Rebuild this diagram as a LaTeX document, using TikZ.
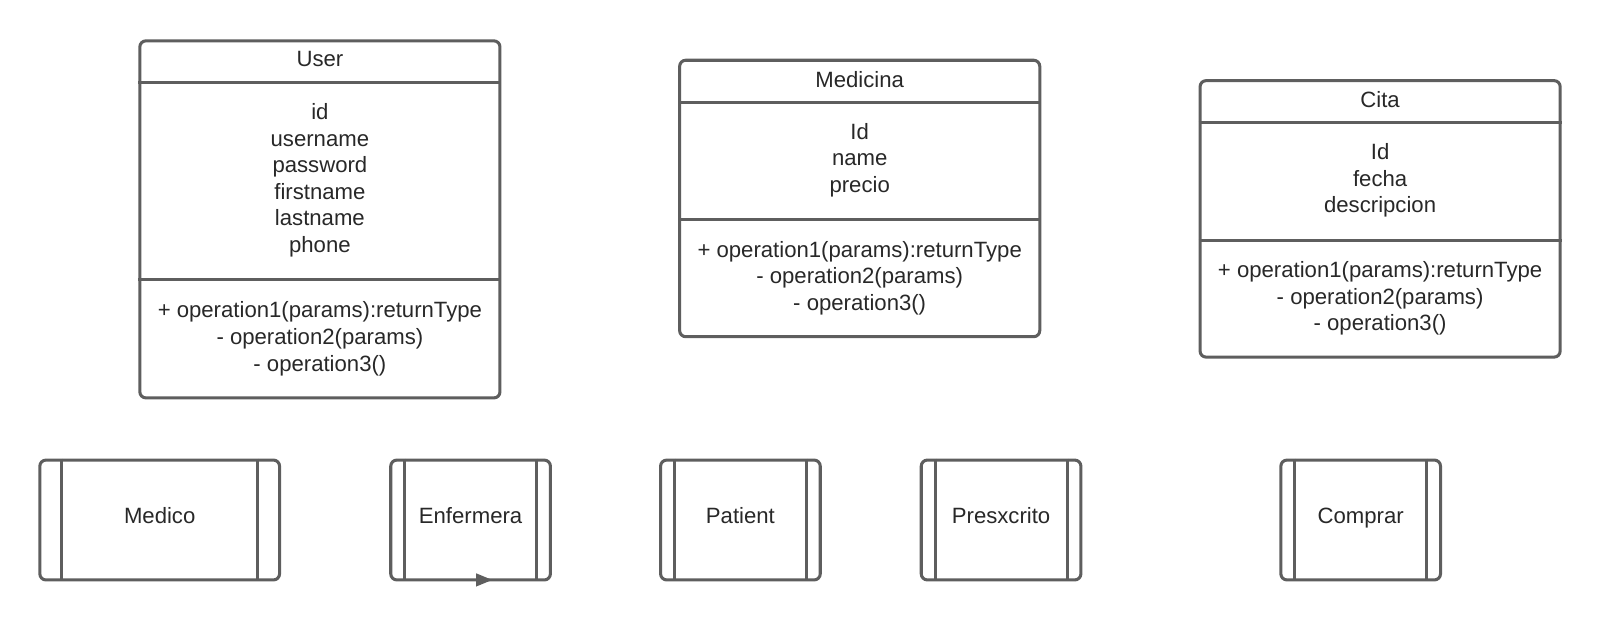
\documentclass[tikz,border=0pt]{standalone}
\usepackage{fontspec}
\setmainfont{Liberation Sans}
\usepackage{tikz}
\usetikzlibrary{positioning,calc,arrows.meta}
\definecolor{linegray}{RGB}{94,94,94}
\definecolor{textgray}{RGB}{40,40,40}

\begin{document}
\begin{tikzpicture}[
    x=0.02cm, y=-0.02cm,
    font=\fontsize{12.35}{14.8}\selectfont, text=textgray,
    classbox/.style={rectangle, draw=linegray, fill=white, line width=1.7pt, minimum width=7.06cm, rounded corners=0.12cm, inner sep=0pt},
    sidebox/.style={rectangle, draw=linegray, fill=white, line width=1.7pt, minimum width=3.13cm, minimum height=2.35cm, rounded corners=0.12cm, inner sep=0pt, text height=0.72em, text depth=0.35em},
    divider/.style={draw=linegray, line width=1.7pt},
    members/.style={align=center, inner sep=0pt},
    endtip/.style={-{Triangle[length=0.32cm, width=0.24cm]}, draw=linegray, fill=linegray, line width=1.7pt}
]
    \useasboundingbox (0,0) rectangle (1568,613.5);

    % class boxes
    \node[classbox, minimum height=7cm] (user) at (313.5,215) {};
    \node[classbox, minimum height=5.42cm] (medicina) at (842.5,194.5) {};
    \node[classbox, minimum height=5.42cm] (cita) at (1352.5,214.5) {};

    \draw[divider] (user.west |- 0,80.5) -- (user.east |- 0,80.5);
    \draw[divider] (user.west |- 0,274) -- (user.east |- 0,274);
    \draw[divider] (medicina.west |- 0,100) -- (medicina.east |- 0,100);
    \draw[divider] (medicina.west |- 0,215) -- (medicina.east |- 0,215);
    \draw[divider] (cita.west |- 0,120) -- (cita.east |- 0,120);
    \draw[divider] (cita.west |- 0,236) -- (cita.east |- 0,236);

    \node[members] (user name) at (313.5,58) {User};
    \node[members] (user attrs) at (313.5,176.5) {id\\username\\password\\firstname\\lastname\\phone};
    \node[members] (user ops) at (313.5,332) {+ operation1(params):returnType\\- operation2(params)\\- operation3()};

    \node[members] (medicina name) at (842.5,78) {Medicina};
    \node[members] (medicina attrs) at (842.5,157) {Id\\name\\precio};
    \node[members] (medicina ops) at (842.5,272.5) {+ operation1(params):returnType\\- operation2(params)\\- operation3()};

    \node[members] (cita name) at (1352.5,98) {Cita};
    \node[members] (cita attrs) at (1352.5,177) {Id\\fecha\\descripcion};
    \node[members] (cita ops) at (1352.5,292.5) {+ operation1(params):returnType\\- operation2(params)\\- operation3()};

    % bottom row
    \node[sidebox, minimum width=4.7cm] (medico) at (156.5,509.6) {Medico};
    \node[sidebox, right=2.12cm of medico] (enfermera) {Enfermera};
    \node[sidebox, right=2.1cm of enfermera] (patient) {Patient};
    \node[sidebox, right=1.92cm of patient] (presxcrito) {Presxcrito};
    \node[sidebox, right=3.86cm of presxcrito] (comprar) {Comprar};

    \foreach \n/\d in {medico/23, enfermera/15, patient/15, presxcrito/15, comprar/15} {
        \draw[divider] ($(\n.north west)+(\d,0)$) -- ($(\n.south west)+(\d,0)$);
        \draw[divider] ($(\n.north east)+(-\d,0)$) -- ($(\n.south east)+(-\d,0)$);
    }

    \coordinate (enf tip) at ($(enfermera.south)+(21.5,-1.5)$);
    \draw[endtip] ($(enf tip)+(-16,0)$) -- (enf tip);
\end{tikzpicture}
\end{document}
